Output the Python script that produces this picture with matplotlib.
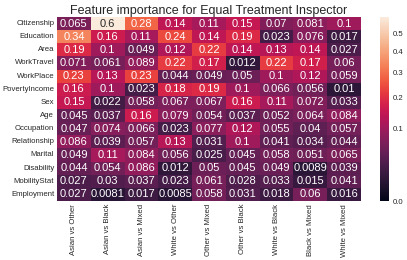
import numpy as np
import pandas as pd
import matplotlib
matplotlib.use('Agg')
import matplotlib.pyplot as plt
import matplotlib.colors as mcolors
import seaborn as sns

features = ['Citizenship', 'Education', 'Area', 'WorkTravel', 'WorkPlace',
            'PovertyIncome', 'Sex', 'Age', 'Occupation', 'Relationship',
            'Marital', 'Disability', 'MobilityStat', 'Employment']
pairs = ['Asian vs Other', 'Asian vs Black', 'Asian vs Mixed', 'White vs Other',
         'Other vs Mixed', 'Other vs Black', 'White vs Black', 'Black vs Mixed',
         'White vs Mixed']

citizenship = [0.065, 0.6, 0.28, 0.14, 0.11, 0.15, 0.07, 0.081, 0.1]
education = [0.34, 0.16, 0.11, 0.24, 0.14, 0.19, 0.023, 0.076, 0.017]
area = [0.19, 0.1, 0.049, 0.12, 0.22, 0.14, 0.13, 0.14, 0.027]
worktravel = [0.071, 0.061, 0.089, 0.22, 0.17, 0.012, 0.22, 0.17, 0.06]
workplace = [0.23, 0.13, 0.23, 0.044, 0.049, 0.05, 0.1, 0.12, 0.059]
povertyincome = [0.16, 0.1, 0.023, 0.18, 0.19, 0.1, 0.066, 0.056, 0.01]
sex = [0.15, 0.022, 0.058, 0.067, 0.067, 0.16, 0.11, 0.072, 0.033]
age = [0.045, 0.037, 0.16, 0.079, 0.054, 0.037, 0.052, 0.064, 0.084]
occupation = [0.047, 0.074, 0.066, 0.023, 0.077, 0.12, 0.055, 0.04, 0.057]
relationship = [0.086, 0.039, 0.057, 0.13, 0.031, 0.1, 0.041, 0.034, 0.044]
marital = [0.049, 0.11, 0.084, 0.056, 0.025, 0.045, 0.058, 0.051, 0.065]
disability = [0.044, 0.054, 0.086, 0.012, 0.05, 0.045, 0.049, 0.0089, 0.039]
mobilitystat = [0.027, 0.03, 0.037, 0.023, 0.061, 0.028, 0.033, 0.015, 0.041]
employment = [0.027, 0.0081, 0.017, 0.0085, 0.058, 0.031, 0.018, 0.06, 0.016]

df = pd.DataFrame([citizenship, education, area, worktravel, workplace,
                   povertyincome, sex, age, occupation, relationship,
                   marital, disability, mobilitystat, employment],
                  index=features, columns=pairs)

sns.set_style('white')
plt.rcParams['font.family'] = ['Liberation Sans', 'DejaVu Sans']

fig = plt.figure(figsize=(4.07, 2.60), dpi=100)
ax = fig.add_axes([57 / 407, 1 - 201 / 260, 304 / 407, 184 / 260])
cax = fig.add_axes([380 / 407, 1 - 201 / 260, 9 / 407, 184 / 260])

# colour scale is square-root like (0.1 sits well above the middle of the bar)
sns.heatmap(df, ax=ax, cbar_ax=cax, annot=True, fmt='.2g',
            xticklabels=1, yticklabels=1,
            norm=mcolors.PowerNorm(gamma=0.52, vmin=0, vmax=0.6),
            annot_kws={'fontsize': 8})

ax.set_title('Feature importance for Equal Treatment Inspector', fontsize=9, pad=2)
ax.tick_params(axis='both', length=0, labelsize=5.6, pad=2)
ax.tick_params(axis='x', labelrotation=90)
ax.tick_params(axis='y', labelrotation=0)

cax.set_yticks([0.0, 0.1, 0.2, 0.3, 0.4, 0.5])
cax.set_yticklabels(['0.0', '0.1', '0.2', '0.3', '0.4', '0.5'])
cax.tick_params(length=0, labelsize=5.6, pad=3)

fig.savefig('out.png', dpi=100)
